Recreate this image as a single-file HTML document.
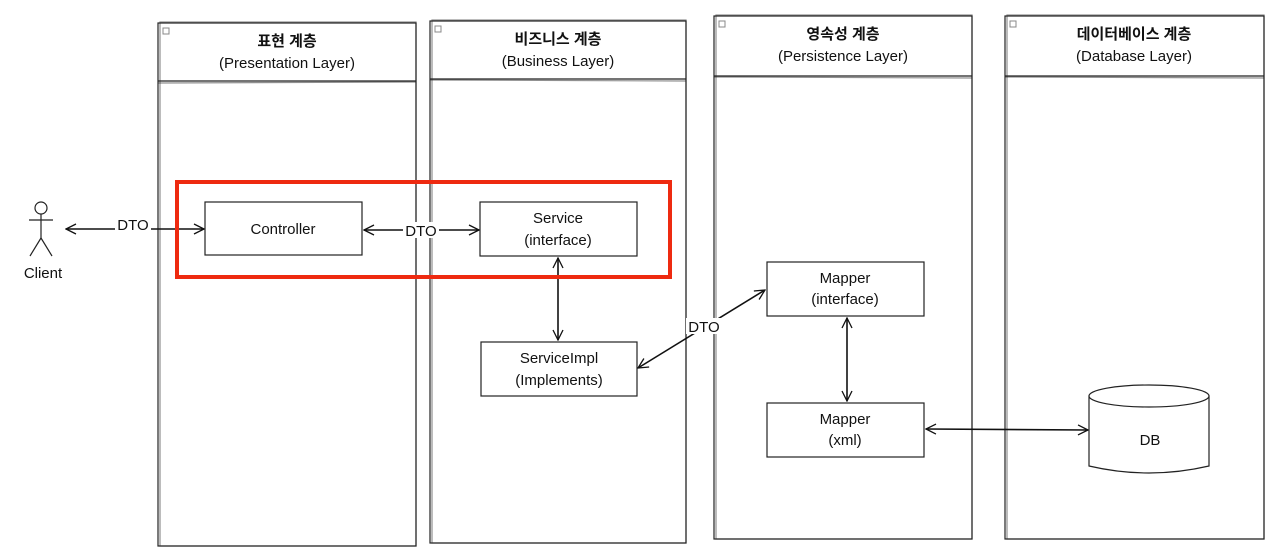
<!DOCTYPE html>
<html><head><meta charset="utf-8"><style>
html,body{margin:0;padding:0;background:#fff;}
svg{display:block}
text{font-family:"Liberation Sans","Noto Sans CJK KR",sans-serif;fill:#111}
</style></head><body>
<svg width="1280" height="559" viewBox="0 0 1280 559" xmlns="http://www.w3.org/2000/svg">
<defs>
<marker id="a" markerWidth="12" markerHeight="12" refX="11" refY="6" orient="auto" markerUnits="userSpaceOnUse">
<path d="M1,1 L11,6 L1,11" fill="none" stroke="#111" stroke-width="1.3"/></marker>
<marker id="b" markerWidth="12" markerHeight="12" refX="1" refY="6" orient="auto" markerUnits="userSpaceOnUse">
<path d="M11,1 L1,6 L11,11" fill="none" stroke="#111" stroke-width="1.3"/></marker>
</defs>
<g fill="none" stroke="#222" stroke-width="1.2">
<!-- lanes -->
<rect x="158" y="23" width="258" height="523"/><rect x="160" y="22" width="256" height="524" stroke-opacity=".5"/>
<line x1="158" y1="81" x2="416" y2="81"/><line x1="158" y1="83" x2="416" y2="82" stroke-opacity=".5"/>
<rect x="430" y="21" width="256" height="522"/><rect x="432" y="20" width="254" height="523" stroke-opacity=".5"/>
<line x1="430" y1="79" x2="686" y2="79"/><line x1="430" y1="80" x2="686" y2="81" stroke-opacity=".5"/>
<rect x="714" y="16" width="258" height="523"/><rect x="716" y="15" width="256" height="524" stroke-opacity=".5"/>
<line x1="714" y1="76" x2="972" y2="76"/><line x1="714" y1="77" x2="972" y2="78" stroke-opacity=".5"/>
<rect x="1005" y="16" width="259" height="523"/><rect x="1007" y="15" width="257" height="524" stroke-opacity=".5"/>
<line x1="1005" y1="76" x2="1264" y2="76"/><line x1="1005" y1="77" x2="1264" y2="78" stroke-opacity=".5"/>
<!-- collapse icons -->
<rect x="163" y="28" width="6" height="6" stroke="#888" stroke-width="1"/>
<rect x="435" y="26" width="6" height="6" stroke="#888" stroke-width="1"/>
<rect x="719" y="21" width="6" height="6" stroke="#888" stroke-width="1"/>
<rect x="1010" y="21" width="6" height="6" stroke="#888" stroke-width="1"/>
<!-- boxes -->
<rect x="205" y="202" width="157" height="53"/>
<rect x="480" y="202" width="157" height="54"/>
<rect x="481" y="342" width="156" height="54"/>
<rect x="767" y="262" width="157" height="54"/>
<rect x="767" y="403" width="157" height="54"/>
<!-- DB -->
<path d="M1089,396 L1089,466 Q1149,480 1209,466 L1209,396"/>
<ellipse cx="1149" cy="396" rx="60" ry="11" fill="#fff"/>
<!-- actor -->
<circle cx="41" cy="208" r="6"/>
<line x1="41" y1="214" x2="41" y2="238"/>
<line x1="29" y1="220" x2="53" y2="220"/>
<line x1="41" y1="238" x2="30" y2="256"/>
<line x1="41" y1="238" x2="52" y2="256"/>
</g>
<!-- connectors -->
<g fill="none" stroke="#111" stroke-width="1.6">
<line x1="66" y1="229" x2="204" y2="229" marker-start="url(#b)" marker-end="url(#a)"/>
<line x1="364" y1="230" x2="479" y2="230" marker-start="url(#b)" marker-end="url(#a)"/>
<line x1="558" y1="258" x2="558" y2="340" marker-start="url(#b)" marker-end="url(#a)"/>
<line x1="638" y1="368" x2="765" y2="290" marker-start="url(#b)" marker-end="url(#a)"/>
<line x1="847" y1="318" x2="847" y2="401" marker-start="url(#b)" marker-end="url(#a)"/>
<line x1="926" y1="429" x2="1088" y2="430" marker-start="url(#b)" marker-end="url(#a)"/>
</g>
<!-- red highlight -->
<rect x="177" y="182" width="493" height="95" fill="none" stroke="#ee2a10" stroke-width="4"/>
<!-- labels -->
<rect x="115" y="218" width="36" height="16" fill="#fff"/>
<text x="133" y="230" font-size="15" text-anchor="middle">DTO</text>
<rect x="403" y="222" width="36" height="16" fill="#fff"/>
<text x="421" y="236" font-size="15" text-anchor="middle">DTO</text>
<rect x="686" y="318" width="36" height="16" fill="#fff"/>
<text x="704" y="332" font-size="15" text-anchor="middle">DTO</text>
<g font-size="15" text-anchor="middle">
<text x="287" y="46" font-weight="bold">표현 계층</text>
<text x="287" y="68">(Presentation Layer)</text>
<text x="558" y="44" font-weight="bold">비즈니스 계층</text>
<text x="558" y="66">(Business Layer)</text>
<text x="843" y="39" font-weight="bold">영속성 계층</text>
<text x="843" y="61">(Persistence Layer)</text>
<text x="1134" y="39" font-weight="bold">데이터베이스 계층</text>
<text x="1134" y="61">(Database Layer)</text>
<text x="283" y="234">Controller</text>
<text x="558" y="223">Service</text>
<text x="558" y="245">(interface)</text>
<text x="559" y="363">ServiceImpl</text>
<text x="559" y="385">(Implements)</text>
<text x="845" y="283">Mapper</text>
<text x="845" y="304">(interface)</text>
<text x="845" y="424">Mapper</text>
<text x="845" y="445">(xml)</text>
<text x="1150" y="445">DB</text>
<text x="43" y="278">Client</text>
</g>
</svg>
</body></html>
